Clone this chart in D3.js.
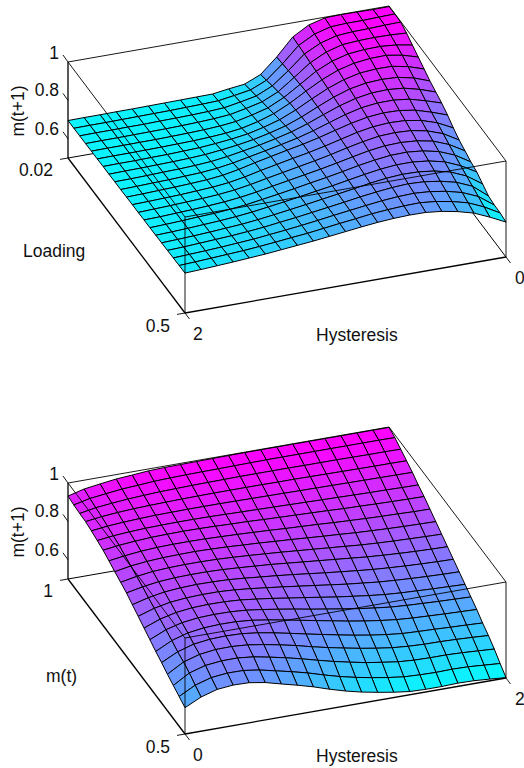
<!DOCTYPE html>
<html>
<head>
<meta charset="utf-8">
<script src="https://cdn.jsdelivr.net/npm/d3@7"></script>
<style>
  body { margin: 0; background: #fff; }
  text { font-family: "Liberation Sans", Arial, sans-serif; font-size: 17.5px; fill: #111; }
</style>
</head>
<body>
<div id="chart"></div>
<script>
// m(t+1). rows run Loading 0.02 -> 0.5, columns Hysteresis 2 -> 0
var loadingRows = [
  [.695,.696,.696,.697,.697,.698,.699,.700,.701,.702,.714,.724,.760,.836,.926,.974,.996,.999,.998,.996,.997],
  [.695,.696,.696,.697,.698,.699,.700,.702,.704,.707,.720,.734,.770,.841,.922,.967,.990,.994,.994,.997,.999],
  [.696,.697,.697,.698,.698,.700,.701,.703,.706,.711,.726,.743,.781,.846,.918,.960,.984,.990,.992,.995,.997],
  [.696,.697,.697,.698,.699,.700,.702,.705,.709,.716,.733,.753,.791,.851,.913,.954,.978,.984,.986,.985,.980],
  [.697,.698,.698,.699,.699,.701,.703,.706,.711,.720,.739,.762,.802,.855,.909,.947,.970,.978,.980,.973,.958],
  [.697,.698,.698,.699,.700,.702,.704,.708,.714,.725,.745,.772,.812,.860,.905,.940,.962,.972,.974,.960,.936],
  [.698,.699,.699,.701,.702,.705,.708,.715,.724,.736,.756,.781,.817,.860,.900,.931,.951,.958,.957,.941,.914],
  [.698,.700,.701,.703,.705,.708,.713,.722,.733,.747,.766,.789,.821,.859,.895,.923,.939,.944,.940,.922,.892],
  [.699,.700,.702,.705,.707,.711,.717,.728,.743,.758,.777,.798,.826,.859,.890,.914,.928,.931,.924,.903,.875],
  [.699,.701,.704,.706,.710,.714,.722,.735,.752,.769,.787,.806,.830,.858,.885,.906,.916,.917,.907,.884,.858],
  [.700,.702,.705,.708,.712,.717,.726,.742,.762,.780,.798,.815,.835,.858,.880,.897,.905,.903,.890,.865,.836],
  [.701,.703,.706,.709,.714,.719,.728,.743,.762,.779,.796,.812,.831,.852,.873,.888,.894,.891,.877,.850,.809],
  [.701,.704,.707,.711,.715,.721,.730,.744,.761,.777,.793,.809,.827,.847,.865,.879,.883,.879,.863,.834,.786],
  [.702,.704,.708,.712,.717,.723,.732,.745,.761,.776,.791,.806,.823,.841,.858,.869,.872,.866,.850,.818,.770],
  [.702,.705,.709,.714,.718,.725,.734,.747,.760,.774,.789,.803,.819,.836,.850,.860,.862,.854,.836,.803,.753],
  [.703,.706,.710,.715,.720,.727,.736,.748,.760,.773,.787,.800,.815,.830,.843,.851,.851,.842,.823,.788,.741],
  [.704,.707,.711,.716,.722,.728,.737,.748,.760,.772,.785,.798,.811,.825,.836,.842,.840,.830,.810,.775,.719],
  [.705,.708,.713,.718,.723,.730,.738,.749,.759,.771,.783,.795,.808,.819,.828,.833,.829,.817,.797,.762,.697],
  [.706,.710,.714,.719,.725,.731,.740,.749,.759,.770,.782,.793,.804,.814,.821,.824,.818,.805,.784,.749,.690],
  [.707,.711,.716,.721,.726,.733,.741,.750,.758,.769,.780,.790,.801,.808,.813,.815,.807,.792,.771,.735,.689],
  [.708,.712,.717,.722,.728,.734,.742,.750,.758,.768,.778,.788,.797,.803,.806,.805,.796,.780,.758,.722,.682]
];

// bottom surface. rows run m(t) 1 -> 0.5, columns Hysteresis 0 -> 2
var mtRows = [
  [.932,.954,.966,.977,.983,.990,.993,.994,.995,.996,.997,.998,.998,.998,.998,.998,.998,.998,.998,.998,.998],
  [.926,.945,.955,.965,.970,.976,.979,.981,.982,.983,.984,.985,.986,.986,.986,.986,.986,.986,.986,.986,.985],
  [.922,.937,.946,.953,.958,.962,.964,.966,.967,.968,.969,.969,.969,.969,.968,.968,.968,.967,.966,.966,.965],
  [.920,.931,.938,.943,.946,.948,.950,.951,.952,.952,.952,.952,.951,.951,.950,.949,.948,.947,.946,.946,.945],
  [.912,.922,.928,.932,.935,.936,.937,.937,.937,.936,.935,.934,.933,.932,.931,.930,.929,.928,.927,.926,.925],
  [.902,.912,.918,.922,.924,.925,.925,.924,.922,.920,.918,.916,.914,.912,.910,.908,.906,.904,.903,.901,.900],
  [.892,.903,.910,.915,.917,.918,.917,.915,.912,.910,.906,.903,.900,.897,.894,.890,.888,.885,.883,.881,.880],
  [.877,.889,.898,.903,.905,.905,.904,.901,.898,.894,.890,.885,.881,.877,.872,.868,.864,.861,.859,.856,.855],
  [.861,.876,.885,.890,.892,.893,.891,.888,.883,.879,.873,.868,.862,.856,.851,.845,.841,.837,.834,.832,.830],
  [.846,.862,.873,.878,.880,.880,.878,.874,.869,.863,.857,.850,.843,.836,.829,.822,.817,.813,.810,.807,.805],
  [.831,.848,.860,.866,.868,.868,.865,.860,.854,.848,.840,.832,.824,.816,.808,.800,.794,.789,.785,.782,.780],
  [.810,.832,.847,.854,.857,.856,.853,.846,.838,.830,.821,.811,.801,.792,.783,.775,.769,.764,.760,.757,.755],
  [.790,.817,.834,.842,.845,.845,.840,.832,.822,.812,.801,.790,.779,.768,.759,.750,.744,.739,.735,.732,.730],
  [.769,.801,.821,.831,.834,.833,.828,.818,.807,.794,.782,.769,.756,.745,.734,.725,.719,.715,.711,.708,.705],
  [.749,.786,.808,.819,.822,.821,.815,.804,.791,.777,.762,.748,.734,.721,.710,.700,.694,.690,.686,.683,.680],
  [.728,.770,.795,.807,.811,.810,.803,.790,.775,.759,.743,.727,.711,.697,.685,.675,.669,.665,.661,.658,.655],
  [.710,.752,.777,.788,.791,.788,.778,.763,.746,.728,.711,.694,.678,.664,.652,.643,.639,.636,.632,.629,.625],
  [.690,.739,.764,.775,.776,.770,.757,.741,.723,.702,.683,.666,.650,.636,.624,.617,.613,.612,.609,.605,.600],
  [.672,.722,.747,.756,.757,.748,.732,.714,.694,.672,.651,.633,.616,.603,.591,.585,.583,.583,.580,.575,.570],
  [.655,.699,.724,.733,.732,.720,.701,.682,.661,.636,.613,.594,.578,.564,.553,.549,.547,.549,.547,.541,.535],
  [.637,.678,.703,.711,.709,.695,.673,.652,.629,.602,.578,.558,.542,.528,.517,.514,.514,.517,.515,.509,.502]
];

var zTicks = [0.5, 0.6, 0.8, 1];
var zTickLabels = ["", "0.6", "0.8", "1"];

var svgWidth = 524;
var svgHeight = 768;

var svg = d3.select("#chart")
  .append("svg")
  .attr("width", svgWidth)
  .attr("height", svgHeight)
  .style("display", "block");

var last = loadingRows.length - 1;

// oblique projection: index along the hysteresis edge, index along the depth edge, height
var alongX = d3.scaleLinear().domain([0, last]).range([0, 321]);
var alongY = d3.scaleLinear().domain([0, last]).range([0, -56]);
var depthX = d3.scaleLinear().domain([0, last]).range([0, 117]);
var depthY = d3.scaleLinear().domain([0, last]).range([0, 155]);
var zScale = d3.scaleLinear().domain([0.5, 1]).range([0, -96]);

function project(i, j, z) {
  return [alongX(i) + depthX(j), alongY(i) + depthY(j) + zScale(z)];
}

function edge(g, a, b, width) {
  g.append("line")
    .attr("x1", a[0]).attr("y1", a[1])
    .attr("x2", b[0]).attr("y2", b[1])
    .attr("stroke", "#000")
    .attr("stroke-width", width);
}

function label(g, txt, x, y, anchor) {
  g.append("text")
    .attr("x", x)
    .attr("y", y)
    .attr("text-anchor", anchor || "start")
    .text(txt);
}

function drawChart(top, rows, depthLabel, depthLabelX, depthLabelY, backTick, frontTick, hystLeft, hystRight) {
  var chartGroup = svg.append("g")
    .attr("transform", `translate(68, ${top})`);

  // hidden box edges go under the surface
  var p = function(i, j, z) { return project(i, j, z); };
  edge(chartGroup, p(0, 0, 0.5), p(last, 0, 0.5), 1);
  edge(chartGroup, p(last, 0, 0.5), p(last, last, 0.5), 1);
  edge(chartGroup, p(last, 0, 0.5), p(last, 0, 1), 1);

  var color = d3.scaleLinear()
    .domain([d3.min(rows, r => d3.min(r)), d3.max(rows, r => d3.max(r))])
    .range(["#00ffff", "#ff00ff"]);

  // back to front so nearer cells cover the farther ones
  var cells = [];
  d3.range(0, last).forEach(function(j) {
    d3.range(last - 1, -1, -1).forEach(function(i) {
      cells.push({ i: i, j: j });
    });
  });

  chartGroup.selectAll("path.cell")
    .data(cells)
    .enter()
    .append("path")
    .attr("class", "cell")
    .attr("d", function(d) {
      var a = p(d.i, d.j, rows[d.j][d.i]);
      var b = p(d.i + 1, d.j, rows[d.j][d.i + 1]);
      var c = p(d.i + 1, d.j + 1, rows[d.j + 1][d.i + 1]);
      var e = p(d.i, d.j + 1, rows[d.j + 1][d.i]);
      return "M" + [a, b, c, e].join("L") + "Z";
    })
    .attr("fill", function(d) {
      return color(d3.mean([rows[d.j][d.i], rows[d.j][d.i + 1], rows[d.j + 1][d.i + 1], rows[d.j + 1][d.i]]));
    })
    .attr("stroke", "#000")
    .attr("stroke-width", 1)
    .attr("stroke-linejoin", "round");

  // front box edges stay visible across the surface
  edge(chartGroup, p(0, 0, 1), p(last, 0, 1), 0.9);
  edge(chartGroup, p(last, 0, 1), p(last, last, 1), 0.9);
  edge(chartGroup, p(0, 0, 1), p(0, last, 1), 0.9);
  edge(chartGroup, p(0, last, 1), p(last, last, 1), 0.9);
  edge(chartGroup, p(0, last, 1), p(0, last, 0.5), 0.9);
  edge(chartGroup, p(last, last, 1), p(last, last, 0.5), 0.9);

  // axes
  edge(chartGroup, p(0, 0, 0.5), p(0, 0, 1), 1.3);
  edge(chartGroup, p(0, 0, 0.5), p(0, last, 0.5), 1.3);
  edge(chartGroup, p(0, last, 0.5), p(last, last, 0.5), 1.3);

  // z ticks
  zTicks.forEach(function(t, n) {
    var o = p(0, 0, t);
    if (n > 0) edge(chartGroup, o, [o[0] - 5, o[1] - 7], 0.9);
    label(chartGroup, zTickLabels[n], -9, o[1] - 3 + (t === 1 ? 0 : -1), "end");
  });

  // ticks on the two ground axes
  var a0 = p(0, 0, 0.5);
  var a1 = p(0, last, 0.5);
  var a2 = p(last, last, 0.5);
  edge(chartGroup, a0, [a0[0] - 8, a0[1] + 1.4], 0.9);
  edge(chartGroup, a1, [a1[0] - 8, a1[1] + 1.4], 0.9);
  edge(chartGroup, a1, [a1[0] + 4.5, a1[1] + 6], 0.9);
  edge(chartGroup, a2, [a2[0] + 4.5, a2[1] + 6], 0.9);

  label(chartGroup, backTick, -15, 18, "end");
  label(chartGroup, frontTick, 102, 174, "end");
  label(chartGroup, hystLeft, 125, 182);
  label(chartGroup, hystRight, 447, 126);
  label(chartGroup, "Hysteresis", 248, 183);
  label(chartGroup, depthLabel, depthLabelX, depthLabelY);

  chartGroup.append("text")
    .attr("transform", `translate(-44, -47) rotate(-90)`)
    .attr("text-anchor", "middle")
    .text("m(t+1)");
}

drawChart(158, loadingRows, "Loading", -45, 99, "0.02", "0.5", "2", "0");
drawChart(579, mtRows, "m(t)", -22, 103, "1", "0.5", "0", "2");
</script>
</body>
</html>
